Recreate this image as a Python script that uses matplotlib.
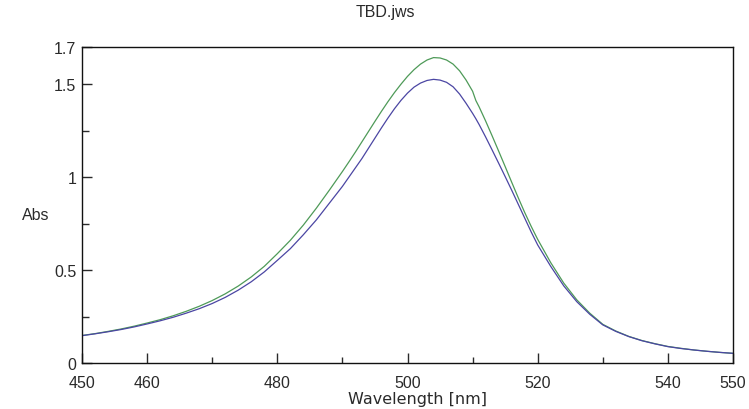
import matplotlib.pyplot as plt
from matplotlib.ticker import FixedLocator

wavelength = [450, 452, 454, 456, 458, 460, 462, 464, 466, 468, 470, 472, 474, 476, 478,
              480, 482, 484, 486, 488, 490, 491, 492, 493, 494, 495, 496, 497, 498, 499,
              500, 501, 502, 503, 504, 505, 506, 507, 508, 509, 510, 510.5, 511, 512, 513,
              514, 515, 516, 517, 518, 519, 520, 522, 524, 526, 528, 530, 532, 534, 536,
              538, 540, 542, 544, 546, 548, 550]

abs_blue = [0.147, 0.157, 0.168, 0.180, 0.194, 0.210, 0.227, 0.246, 0.268, 0.292, 0.320, 0.353,
            0.392, 0.437, 0.490, 0.552, 0.615, 0.690, 0.770, 0.860, 0.950, 1.000, 1.050, 1.100,
            1.155, 1.210, 1.265, 1.318, 1.368, 1.413, 1.452, 1.484, 1.506, 1.520, 1.526, 1.522,
            1.510, 1.486, 1.447, 1.397, 1.343, 1.314, 1.283, 1.216, 1.146, 1.075, 1.003, 0.930,
            0.855, 0.780, 0.705, 0.635, 0.520, 0.415, 0.330, 0.262, 0.205, 0.170, 0.142, 0.120,
            0.103, 0.088, 0.078, 0.070, 0.063, 0.057, 0.052]

abs_green = [0.148, 0.158, 0.170, 0.183, 0.198, 0.215, 0.233, 0.254, 0.278, 0.305, 0.336, 0.372,
             0.414, 0.463, 0.520, 0.588, 0.660, 0.742, 0.833, 0.930, 1.030, 1.082, 1.135, 1.190,
             1.245, 1.300, 1.354, 1.406, 1.455, 1.500, 1.542, 1.578, 1.608, 1.630, 1.643, 1.641,
             1.630, 1.608, 1.572, 1.522, 1.462, 1.412, 1.378, 1.302, 1.222, 1.140, 1.057, 0.973,
             0.890, 0.810, 0.735, 0.665, 0.540, 0.430, 0.340, 0.268, 0.208, 0.172, 0.143, 0.121,
             0.104, 0.089, 0.079, 0.070, 0.063, 0.057, 0.052]

x_major = [450, 460, 480, 500, 520, 540, 550]
x_minor = [470, 490, 510, 530]
y_major = [0, 0.5, 1, 1.5, 1.7]
y_labels = ["0", "0.5", "1", "1.5", "1.7"]
y_minor = [0.25, 0.75, 1.25]

plt.rcParams["font.family"] = ["Liberation Sans", "DejaVu Sans"]
text_color = "#2a2a2a"

fig = plt.figure(figsize=(7.49, 4.10), dpi=100)
W, H = 749, 410
ax = fig.add_axes([82 / W, 1 - 364 / H, (733 - 82) / W, (364 - 48) / H])

ax.plot(wavelength, abs_green, color="#4e9a58", lw=0.9)
ax.plot(wavelength, abs_blue, color="#4b46a3", lw=0.9)

ax.set_xlim(450, 550)
ax.set_ylim(0, 1.7)

ax.xaxis.set_major_locator(FixedLocator(x_major))
ax.xaxis.set_minor_locator(FixedLocator(x_minor))
ax.set_yticks(y_major)
ax.set_yticklabels(y_labels)
ax.yaxis.set_minor_locator(FixedLocator(y_minor))

ax.tick_params(axis="both", which="both", direction="in", color=text_color,
               labelcolor=text_color, labelsize=11.5, width=1)
ax.tick_params(axis="x", which="major", length=7, pad=9)
ax.tick_params(axis="x", which="minor", length=4)
ax.tick_params(axis="y", which="major", length=7, pad=4)
ax.tick_params(axis="y", which="minor", length=5)

for s in ax.spines.values():
    s.set_color("#111111")
    s.set_linewidth(1)

fig.text(385 / W, 1 - 13 / H, "TBD.jws", ha="center", va="center",
         fontsize=11.5, color=text_color)
fig.text(22 / W, 1 - 216 / H, "Abs", ha="left", va="center",
         fontsize=11.5, color=text_color)
fig.text(418 / W, 1 - 400 / H, "Wavelength [nm]", ha="center", va="center",
         fontsize=11.5, color=text_color, family="DejaVu Sans")

fig.savefig("out.png", dpi=100)
